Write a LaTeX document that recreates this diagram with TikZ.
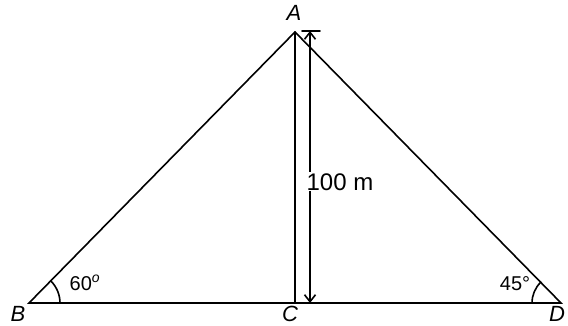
\documentclass[tikz,border=0pt]{standalone}
\usepackage{fontspec}
\setmainfont{Liberation Sans}
\usetikzlibrary{arrows.meta,calc}

\begin{document}
\begin{tikzpicture}[x=1pt,y=1pt,>={Straight Barb[length=7pt,width=11pt]}]
\tikzstyle{edge}=[line width=1.6pt,line cap=round]
\tikzstyle{lbl}=[inner sep=0pt,font=\fontsize{22}{24}\selectfont\itshape]
\tikzstyle{ang}=[inner sep=0pt,font=\fontsize{20}{22}\selectfont]
\useasboundingbox (0,0) rectangle (568,326);
\fill[white] (0,0) rectangle (568,326);
% vertices
\coordinate (A) at (295,294);
\coordinate (B) at (29,23);
\coordinate (C) at (295,23);
\coordinate (D) at (561,23);
% height marker
\coordinate (htop) at (310,295);
\coordinate (hbot) at (310,23);
\coordinate (barl) at (302,295);
\coordinate (barr) at (320,295);
\draw[edge] (B)--(A)--(D)--cycle;
\draw[edge] (A)--(C);
\draw[edge] (barl)--(barr);
\draw[edge,<->] (htop)--(hbot);
\node[fill=white,inner sep=1pt,font=\fontsize{24}{26}\selectfont] (h) at (340,144) {100 m};
% angles
\draw[edge] ($(B)+(31,0)$) arc[start angle=0,end angle=45.5,radius=31];
\draw[edge] ($(D)+(-29,0)$) arc[start angle=180,end angle=134.4,radius=29];
\node[ang] (a60) at (85,43) {60$^{\mathit{o}}$};
\node[ang] (a45) at (515,42) {45\textdegree};
% labels
\node[lbl] (la) at (294,313) {A};
\node[lbl] (lb) at (18,12) {B};
\node[lbl] (lc) at (290,12) {C};
\node[lbl] (ld) at (557,12) {D};
\end{tikzpicture}
\end{document}
